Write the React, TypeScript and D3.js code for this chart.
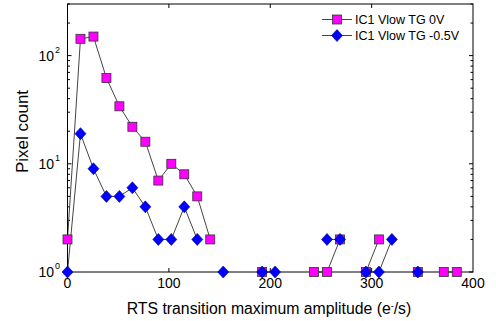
import React from 'react';
import * as d3 from 'd3';

// amplitude bins (e-/s)
const amplitudes = [0, 12.8, 25.6, 38.4, 51.2, 64, 76.8, 89.6, 102.4, 115.2, 128, 140.8, 153.6, 166.4, 179.2, 192,
  204.8, 217.6, 230.4, 243.2, 256, 268.8, 281.6, 294.4, 307.2, 320, 332.8, 345.6, 358.4, 371.2, 384];

// pixel counts, null = zero (not shown on log axis)
const countsTG0 = [2, 143, 150, 62, 34, 22, 16, 7, 10, 8, 5, 2, null, null, null, 1,
  null, null, null, 1, 1, 2, null, 1, 2, null, null, 1, null, 1, 1];
const countsTGm05 = [1, 19, 9, 5, 5, 6, 4, 2, 2, 4, 2, null, 1, null, null, 1,
  1, null, null, null, 2, 2, null, 1, 1, 2, null, 1, null, null, null];

const seriesNames = ['IC1 Vlow TG 0V', 'IC1 Vlow TG -0.5V'];
const xTicks = [0, 100, 200, 300, 400];
const yTicks = [1, 10, 100];
const yExps = ['0', '1', '2'];

const W = 496, H = 321;
const left = 67.5, right = 473, top = 4, bottom = 272;
const font = '"Liberation Sans", Arial, sans-serif';

export default function App() {
  const x = d3.scaleLinear().domain([0, 400]).range([left, right]);
  const y = d3.scaleLog().domain([1, 300]).range([bottom, top]);

  type P = { a: number; c: number | null };
  const pts = (cs: (number | null)[]): P[] => amplitudes.map((a, i) => ({ a, c: cs[i] }));
  const line = d3.line<P>()
    .defined(d => d.c != null)
    .x(d => x(d.a))
    .y(d => y(d.c as number));

  const magenta = pts(countsTG0);
  const blue = pts(countsTGm05);

  const minor: number[] = [];
  [1, 10, 100].forEach(dec => {
    for (let m = 2; m <= 9; m++) if (dec * m <= 300) minor.push(dec * m);
  });

  const square = (cx: number, cy: number, k: string) => (
    <rect key={k} x={cx - 4.5} y={cy - 4.5} width={9} height={9} fill="#ff00ff" stroke="#333" strokeWidth={0.8} />
  );
  const diamond = (cx: number, cy: number, k: string) => (
    <path key={k} d={`M${cx},${cy - 6}L${cx + 5.5},${cy}L${cx},${cy + 6}L${cx - 5.5},${cy}Z`} fill="#0000ff" stroke="#00008b" strokeWidth={0.6} />
  );

  return (
    <svg width={W} height={H} style={{ position: 'fixed', left: 0, top: 0, background: '#fff' }} fontFamily={font}>
      <rect x={0} y={0} width={W} height={H} fill="#fff" />
      {/* ticks */}
      <g stroke="#000" strokeWidth={1}>
        {xTicks.slice(1, -1).map(t => (
          <g key={t}>
            <line x1={x(t)} x2={x(t)} y1={bottom} y2={bottom - 4} />
            <line x1={x(t)} x2={x(t)} y1={top} y2={top + 4} />
          </g>
        ))}
        {yTicks.map(t => (
          <g key={t}>
            <line x1={left} x2={left + 4} y1={y(t)} y2={y(t)} />
            <line x1={right} x2={right - 4} y1={y(t)} y2={y(t)} />
          </g>
        ))}
        {minor.map(t => (
          <g key={'m' + t}>
            <line x1={left} x2={left + 2.5} y1={y(t)} y2={y(t)} />
            <line x1={right} x2={right - 2.5} y1={y(t)} y2={y(t)} />
          </g>
        ))}
      </g>
      {/* series */}
      <path d={line(magenta) || ''} fill="none" stroke="#444" strokeWidth={1} />
      <path d={line(blue) || ''} fill="none" stroke="#444" strokeWidth={1} />
      <rect x={left} y={top} width={right - left} height={bottom - top} fill="none" stroke="#000" strokeWidth={1} />
      {magenta.filter(d => d.c != null).map((d, i) => square(x(d.a), y(d.c as number), 'm' + i))}
      {blue.filter(d => d.c != null).map((d, i) => diamond(x(d.a), y(d.c as number), 'b' + i))}
      {/* tick labels */}
      <g fontSize={14} fill="#000">
        {xTicks.map(t => (
          <text key={t} x={x(t)} y={288} textAnchor="middle">{t}</text>
        ))}
        {yTicks.map((t, i) => (
          <text key={t} x={54} y={y(t) + 5} textAnchor="end">10</text>
        ))}
        {yTicks.map((t, i) => (
          <text key={'e' + t} x={55} y={y(t) - 3} fontSize={9}>{yExps[i]}</text>
        ))}
      </g>
      {/* axis titles */}
      <text x={269} y={314} textAnchor="middle" fontSize={15.8}>
        RTS transition maximum amplitude (e<tspan dy={-5} fontSize={9}>-</tspan><tspan dy={5}>/s)</tspan>
      </text>
      <text transform={`translate(28,131.5) rotate(-90)`} textAnchor="middle" fontSize={17}>Pixel count</text>
      {/* legend */}
      <g fontSize={12.5}>
        <line x1={322} x2={352} y1={19.5} y2={19.5} stroke="#444" />
        {square(337, 19.5, 'l1')}
        <text x={355} y={24}>{seriesNames[0]}</text>
        <line x1={322} x2={352} y1={35.5} y2={35.5} stroke="#444" />
        {diamond(337, 35.5, 'l2')}
        <text x={355} y={40}>{seriesNames[1]}</text>
      </g>
    </svg>
  );
}
